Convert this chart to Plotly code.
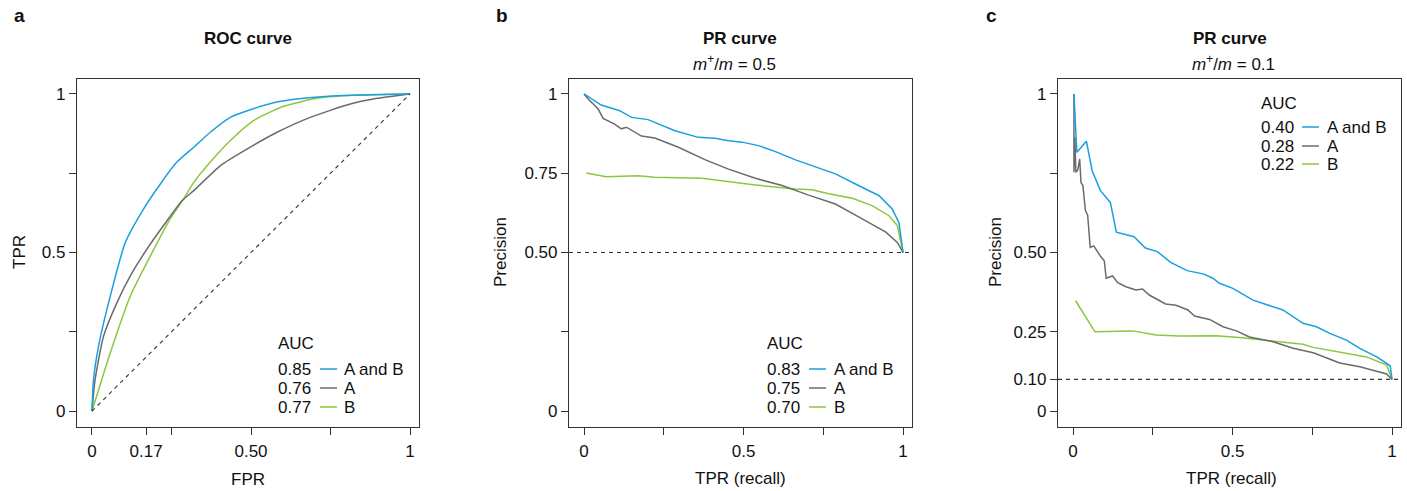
import plotly.graph_objects as go

# ---------------- data ----------------
# Panel a: ROC curves
roc_fpr_ab = [0, 0.005, 0.021, 0.058, 0.105, 0.162, 0.215, 0.267, 0.32, 0.372, 0.435, 0.498, 0.571, 0.666, 0.791, 1.0]
roc_tpr_ab = [0, 0.10, 0.206, 0.364, 0.532, 0.637, 0.716, 0.785, 0.832, 0.879, 0.926, 0.950, 0.972, 0.986, 0.995, 1.0]
roc_fpr_a = [0, 0.01, 0.037, 0.079, 0.121, 0.173, 0.225, 0.283, 0.32, 0.404, 0.487, 0.582, 0.686, 0.812, 0.896, 1.0]
roc_tpr_a = [0, 0.10, 0.238, 0.343, 0.427, 0.511, 0.585, 0.663, 0.695, 0.774, 0.826, 0.879, 0.926, 0.968, 0.986, 1.0]
roc_fpr_b = [0, 0.058, 0.121, 0.184, 0.246, 0.288, 0.32, 0.372, 0.435, 0.508, 0.603, 0.708, 0.844, 1.0]
roc_tpr_b = [0, 0.185, 0.364, 0.49, 0.606, 0.669, 0.721, 0.785, 0.853, 0.916, 0.961, 0.986, 0.997, 1.0]

# Panel b: PR curves, m+/m = 0.5
pr5_rec_ab = [0, 0.054, 0.112, 0.149, 0.201, 0.285, 0.358, 0.411, 0.453, 0.495, 0.547, 0.6, 0.663, 0.725, 0.788, 0.851, 0.925, 0.966, 0.987, 1.0]
pr5_pre_ab = [1.0, 0.965, 0.947, 0.926, 0.919, 0.884, 0.863, 0.860, 0.852, 0.848, 0.837, 0.818, 0.792, 0.769, 0.748, 0.716, 0.679, 0.637, 0.595, 0.5]
pr5_rec_a = [0, 0.013, 0.044, 0.06, 0.096, 0.117, 0.133, 0.18, 0.222, 0.296, 0.379, 0.453, 0.537, 0.621, 0.704, 0.788, 0.872, 0.946, 0.982, 1.0]
pr5_pre_a = [1.0, 0.984, 0.953, 0.923, 0.905, 0.890, 0.895, 0.867, 0.861, 0.832, 0.793, 0.763, 0.734, 0.711, 0.681, 0.653, 0.606, 0.564, 0.532, 0.5]
pr5_rec_b = [0.007, 0.07, 0.17, 0.222, 0.369, 0.537, 0.663, 0.715, 0.767, 0.841, 0.903, 0.956, 0.982, 1.0]
pr5_pre_b = [0.751, 0.739, 0.742, 0.737, 0.734, 0.713, 0.700, 0.698, 0.685, 0.671, 0.648, 0.616, 0.585, 0.5]

# Panel c: PR curves, m+/m = 0.1
pr1_rec_ab = [0.003, 0.012, 0.042, 0.06, 0.086, 0.117, 0.136, 0.191, 0.227, 0.264, 0.306, 0.358, 0.411, 0.438, 0.459, 0.501, 0.564, 0.627, 0.658, 0.721, 0.763, 0.805, 0.857, 0.899, 0.952, 0.994, 1.0]
pr1_pre_ab = [1.0, 0.816, 0.851, 0.758, 0.695, 0.658, 0.564, 0.55, 0.514, 0.503, 0.469, 0.443, 0.432, 0.419, 0.403, 0.387, 0.35, 0.329, 0.319, 0.277, 0.266, 0.245, 0.224, 0.198, 0.171, 0.143, 0.10]
pr1_rec_a = [0.003, 0.003, 0.006, 0.009, 0.015, 0.021, 0.025, 0.031, 0.039, 0.046, 0.054, 0.065, 0.085, 0.098, 0.104, 0.124, 0.14, 0.166, 0.197, 0.218, 0.239, 0.29, 0.323, 0.36, 0.381, 0.428, 0.47, 0.512, 0.553, 0.627, 0.69, 0.753, 0.836, 0.899, 0.983, 1.0]
pr1_pre_a = [1.0, 0.753, 0.863, 0.753, 0.76, 0.795, 0.721, 0.711, 0.632, 0.618, 0.516, 0.521, 0.49, 0.474, 0.419, 0.426, 0.405, 0.392, 0.382, 0.385, 0.366, 0.338, 0.334, 0.319, 0.300, 0.289, 0.266, 0.253, 0.234, 0.219, 0.198, 0.184, 0.152, 0.14, 0.117, 0.10]
pr1_rec_b = [0.008, 0.069, 0.187, 0.26, 0.333, 0.448, 0.522, 0.585, 0.721, 0.753, 0.836, 0.92, 0.983, 1.0]
pr1_pre_b = [0.348, 0.250, 0.253, 0.24, 0.237, 0.238, 0.232, 0.226, 0.211, 0.201, 0.187, 0.171, 0.145, 0.10]

series_names = ["A and B", "A", "B"]
auc_roc = ["0.85", "0.76", "0.77"]
auc_pr5 = ["0.83", "0.75", "0.70"]
auc_pr1 = ["0.40", "0.28", "0.22"]

# ---------------- style ----------------
W, H = 1407, 491
FONT = "Liberation Sans, Arial, Helvetica, sans-serif"
COLORS = ["#1a9fdf", "#6b6b6b", "#8cc63f"]
LW = 1.5
FS = 17

fig = go.Figure()

def px_x(p):
    return p / W

def px_y(p):
    return 1 - p / H

ydom = [px_y(427), px_y(79)]
xdoms = [[px_x(77), px_x(419)], [px_x(569), px_x(912)], [px_x(1058), px_x(1401)]]

panels = [
    ([roc_fpr_ab, roc_fpr_a, roc_fpr_b], [roc_tpr_ab, roc_tpr_a, roc_tpr_b]),
    ([pr5_rec_ab, pr5_rec_a, pr5_rec_b], [pr5_pre_ab, pr5_pre_a, pr5_pre_b]),
    ([pr1_rec_ab, pr1_rec_a, pr1_rec_b], [pr1_pre_ab, pr1_pre_a, pr1_pre_b]),
]

for i, (xs, ys) in enumerate(panels):
    ax = "" if i == 0 else str(i + 1)
    for j in [2, 1, 0]:
        line = dict(color=COLORS[j], width=LW)
        if i == 0:
            line.update(shape="spline", smoothing=0.6)
        fig.add_trace(go.Scatter(x=xs[j], y=ys[j], mode="lines", line=line,
                                 xaxis="x" + ax, yaxis="y" + ax,
                                 showlegend=False, hoverinfo="skip"))

# reference lines
fig.add_trace(go.Scatter(x=[0, 1], y=[0, 1], mode="lines",
                         line=dict(color="#333333", width=1.1, dash="4px,4px"),
                         xaxis="x", yaxis="y", showlegend=False, hoverinfo="skip"))
for ax, base in [("2", 0.5), ("3", 0.1)]:
    fig.add_shape(type="line", xref="x" + ax + " domain", yref="y" + ax,
                  x0=0, x1=1, y0=base, y1=base,
                  line=dict(color="#333333", width=1.1, dash="4px,4px"))

def axis(vals, labels, minor_vals, **kw):
    d = dict(showline=True, mirror=True, linecolor="#333333", linewidth=1.2,
             ticks="outside", ticklen=7, tickwidth=1.1, tickcolor="#333333",
             showgrid=False, zeroline=False,
             tickvals=vals, ticktext=labels,
             tickfont=dict(family=FONT, size=FS, color="#111111"))
    if minor_vals:
        d["minor"] = dict(tickvals=minor_vals, ticks="outside", ticklen=7, tickwidth=1.1,
                          tickcolor="#333333", showgrid=False)
    d.update(kw)
    return d

xr = [-0.047, 1.028]
yr = [-0.05, 1.047]

fig.update_layout(
    xaxis=axis([0, 0.17, 0.5, 1], ["0", "0.17", "0.50", "1"], [0.25, 0.75],
               domain=xdoms[0], range=xr, anchor="y", ticklabelstandoff=1),
    yaxis=axis([0, 0.5, 1], ["0", "0.5", "1"], [0.25, 0.75],
               domain=ydom, range=yr, anchor="x"),
    xaxis2=axis([0, 0.5, 1], ["0", "0.5", "1"], [0.25, 0.75],
                domain=xdoms[1], range=xr, anchor="y2", ticklabelstandoff=1),
    yaxis2=axis([0, 0.5, 0.75, 1], ["0", "0.50", "0.75", "1"], [0.25],
                domain=ydom, range=yr, anchor="x2"),
    xaxis3=axis([0, 0.5, 1], ["0", "0.5", "1"], [0.25, 0.75],
                domain=xdoms[2], range=xr, anchor="y3", ticklabelstandoff=1),
    yaxis3=axis([0, 0.1, 0.25, 0.5, 1], ["0", "0.10", "0.25", "0.50", "1"], [0.75],
                domain=ydom, range=yr, anchor="x3"),
    width=W, height=H,
    margin=dict(l=0, r=0, t=0, b=0),
    paper_bgcolor="white", plot_bgcolor="white",
    font=dict(family=FONT, size=FS, color="#111111"),
)

def text(xp, yp, s, size=FS, bold=False, xanchor="center", angle=0):
    if bold:
        s = "<b>" + s + "</b>"
    fig.add_annotation(x=px_x(xp), y=px_y(yp), xref="paper", yref="paper", text=s,
                       showarrow=False, xanchor=xanchor, yanchor="middle", textangle=angle,
                       font=dict(family=FONT, size=size, color="#111111"))

# panel letters
text(12, 16, "a", size=19, bold=True, xanchor="left")
text(494, 16, "b", size=19, bold=True, xanchor="left")
text(984, 16, "c", size=19, bold=True, xanchor="left")

# titles
text(248, 38, "ROC curve", size=17, bold=True)
text(740, 38, "PR curve", size=17, bold=True)
text(734, 63, "<i>m</i><sup>+</sup>/<i>m</i> = 0.5", size=FS)
text(1230, 38, "PR curve", size=17, bold=True)
text(1233, 63, "<i>m</i><sup>+</sup>/<i>m</i> = 0.1", size=FS)

# axis titles
text(248, 479, "FPR")
text(740, 478, "TPR (recall)")
text(1231, 478, "TPR (recall)")
text(19, 252, "TPR", angle=-90)
text(500, 252, "Precision", angle=-90)
text(995, 252, "Precision", angle=-90)

# legends
def legend(x_num, x_line0, x_line1, x_lab, y_head, ys_rows, aucs):
    text(x_num, y_head, "AUC", xanchor="left")
    for k in range(3):
        text(x_num, ys_rows[k], aucs[k], xanchor="left")
        fig.add_shape(type="line", xref="paper", yref="paper",
                      x0=px_x(x_line0), x1=px_x(x_line1), y0=px_y(ys_rows[k]), y1=px_y(ys_rows[k]),
                      line=dict(color=COLORS[k], width=LW))
        text(x_lab, ys_rows[k], series_names[k], xanchor="left")

legend(276, 320, 337, 342, 343, [369, 388, 407], auc_roc)
legend(765, 809, 826, 832, 343, [369, 388, 407], auc_pr5)
legend(1259, 1302, 1319, 1325, 103, [127, 146, 164], auc_pr1)

fig.write_html("out.html", config={"displayModeBar": False},
               post_script="document.body.style.margin='0';document.body.style.padding='0';document.body.style.overflow='hidden';")
